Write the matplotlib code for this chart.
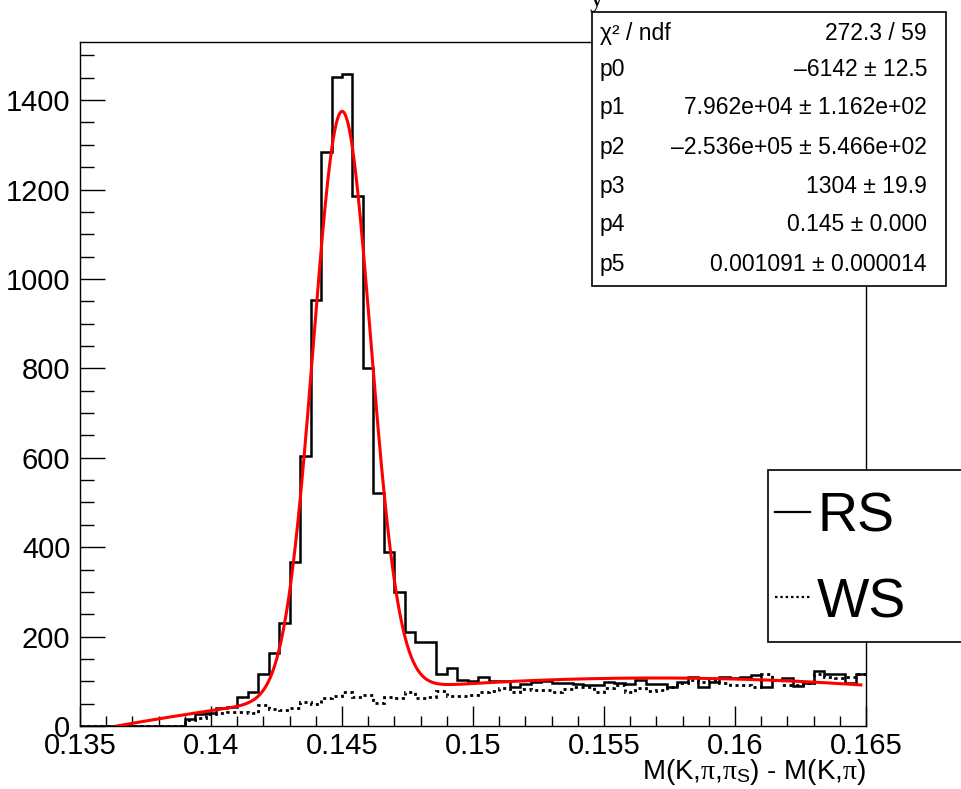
import numpy as np
import matplotlib
matplotlib.use("Agg")
import matplotlib.pyplot as plt
from matplotlib.patches import Rectangle
from matplotlib.lines import Line2D
from matplotlib.ticker import MultipleLocator, FixedLocator

plt.rcParams['font.family'] = ['Liberation Sans', 'DejaVu Sans']
plt.rcParams['mathtext.fontset'] = 'custom'
plt.rcParams['mathtext.rm'] = 'Liberation Sans'
plt.rcParams['mathtext.it'] = 'Liberation Serif'
plt.rcParams['mathtext.bf'] = 'Liberation Sans:bold'

# ---------------- data ----------------
x_min, x_max, n_bins = 0.135, 0.165, 75
rs_counts = [0, 0, 0, 0, 0, 0, 0, 0, 0, 0,
             16, 26, 30, 40, 43, 65, 77, 116, 164, 230,
             367, 604, 953, 1285, 1451, 1458, 1186, 800, 521, 390,
             300, 211, 189, 189, 116, 130, 104, 101, 109, 101,
             101, 87, 94, 99, 101, 97, 97, 94, 92, 92,
             99, 97, 94, 104, 94, 94, 87, 99, 110, 87,
             99, 110, 108, 110, 114, 87, 103, 108, 89, 97,
             124, 116, 117, 97, 117]
ws_counts = [0, 0, 0, 0, 0, 0, 0, 0, 0, 0,
             13, 19, 27, 30, 32, 32, 30, 47, 37, 36,
             40, 54, 49, 62, 67, 75, 65, 69, 52, 65,
             62, 77, 62, 65, 79, 66, 66, 69, 75, 79,
             84, 75, 82, 81, 81, 77, 82, 88, 88, 75,
             86, 92, 77, 85, 79, 81, 88, 97, 104, 99,
             104, 97, 92, 92, 88, 116, 103, 92, 92, 97,
             116, 110, 108, 110, 116]

# fit parameters (pol2 + gaus) as printed in the stats box
fit_params = [-6142, 7.962e+04, -2.536e+05, 1304, 0.145, 0.001091]
fit_range = (0.135, 0.1648)

stat_labels = ["\u03c7\u00b2 / ndf", "p0", "p1", "p2", "p3", "p4", "p5"]
stat_values = ["272.3 / 59", "\u20136142 \u00b1 12.5", "7.962e+04 \u00b1 1.162e+02",
               "\u20132.536e+05 \u00b1 5.466e+02", "1304 \u00b1 19.9",
               "0.145 \u00b1 0.000", "0.001091 \u00b1 0.000014"]

legend_labels = ["RS", "WS"]
xtick_vals = [0.135, 0.14, 0.145, 0.15, 0.155, 0.16, 0.165]
xtick_labels = ["0.135", "0.14", "0.145", "0.15", "0.155", "0.16", "0.165"]
ytick_vals = [0, 200, 400, 600, 800, 1000, 1200, 1400]
x_title = r"M(K,$\pi$,$\pi_{\mathrm{S}}$) - M(K,$\pi$)"

# ---------------- figure ----------------
W, H = 961, 789
fig = plt.figure(figsize=(W / 100, H / 100), dpi=100)
L, R, T, B = 80, 866, 42, 726
ax = fig.add_axes([L / W, 1 - B / H, (R - L) / W, (B - T) / H])

edges = np.linspace(x_min, x_max, n_bins + 1)
ax.stairs(rs_counts, edges, baseline=None, color='black', linewidth=1.8, zorder=3)
ax.stairs(ws_counts, edges, baseline=None, color='black', linewidth=2.0,
          linestyle=(0, (1.1, 1.3)), zorder=3)

xf = np.linspace(fit_range[0], fit_range[1], 1500)
p = fit_params
yf = p[0] + p[1] * xf + p[2] * xf ** 2 + p[3] * np.exp(-0.5 * ((xf - p[4]) / p[5]) ** 2)
yf[yf < 0] = np.nan
ax.plot(xf, yf, color='#ff0000', linewidth=2.2, zorder=4)

ax.set_xlim(x_min, x_max)
ax.set_ylim(0, 1530)

ax.xaxis.set_major_locator(FixedLocator(xtick_vals))
ax.set_xticklabels(xtick_labels)
ax.xaxis.set_minor_locator(MultipleLocator(0.001))
ax.yaxis.set_major_locator(FixedLocator(ytick_vals))
ax.set_yticklabels([str(v) for v in ytick_vals])
ax.yaxis.set_minor_locator(MultipleLocator(50))

ax.tick_params(axis='x', which='major', direction='in', length=14.4, width=1.0,
               labelsize=21, pad=4)
ax.tick_params(axis='x', which='minor', direction='in', length=7.2, width=1.0)
ax.tick_params(axis='y', which='major', direction='in', length=18, width=1.0,
               labelsize=21, pad=7)
ax.tick_params(axis='y', which='minor', direction='in', length=10, width=1.0)
for s in ax.spines.values():
    s.set_linewidth(1.0)

fig.text(R / W, 1 - 779 / H, x_title, ha='right', va='baseline', fontsize=20)

# partially hidden title fragment
fig.text(590 / W, 1 - 6 / H, "y", family='Liberation Serif', fontsize=20,
         ha='left', va='baseline', zorder=0.5)

# ---------------- stats box ----------------
bx0, bx1, by0, by1 = 592, 946, 12, 286
fig.patches.append(Rectangle((bx0 / W, 1 - by1 / H), (bx1 - bx0) / W, (by1 - by0) / H,
                             transform=fig.transFigure, facecolor='white',
                             edgecolor='black', linewidth=1.2, zorder=5))
baselines = [40, 76, 114, 154, 193, 231, 271]
for lab, val, yb in zip(stat_labels, stat_values, baselines):
    fig.text(600 / W, 1 - yb / H, lab, ha='left', va='baseline', fontsize=16.5, zorder=6)
    fig.text(927 / W, 1 - yb / H, val, ha='right', va='baseline', fontsize=16.5, zorder=6)

# ---------------- legend box ----------------
lx0, lx1, ly0, ly1 = 768, 990, 470, 642
fig.patches.append(Rectangle((lx0 / W, 1 - ly1 / H), (lx1 - lx0) / W, (ly1 - ly0) / H,
                             transform=fig.transFigure, facecolor='white',
                             edgecolor='black', linewidth=1.2, zorder=5))
leg_y = [512, 597]
leg_base = [531, 617]
leg_styles = ['-', (0, (1.1, 1.3))]
for lab, yl, yb, ls in zip(legend_labels, leg_y, leg_base, leg_styles):
    fig.add_artist(Line2D([775 / W, 810 / W], [1 - yl / H, 1 - yl / H],
                          transform=fig.transFigure, color='black',
                          linewidth=1.6, linestyle=ls, zorder=6))
    fig.text(817 / W, 1 - yb / H, lab, ha='left', va='baseline', fontsize=40, zorder=6)

fig.savefig("out.png", dpi=100)
